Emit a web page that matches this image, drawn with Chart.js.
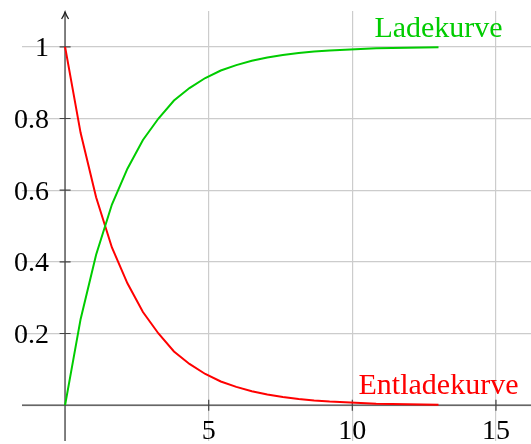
<!DOCTYPE html>
<html>
<head>
<meta charset="utf-8">
<script src="https://cdn.jsdelivr.net/npm/chart.js@4"></script>
<style>
  body { margin: 0; background: #fff; }
  #wrap { width: 531px; height: 444px; position: relative; }
</style>
</head>
<body>
<div id="wrap"><canvas id="kurven"></canvas></div>
<script>
// values
const zeit = [0, 0.54, 1.08, 1.63, 2.17, 2.71, 3.25, 3.79, 4.33, 4.88, 5.42, 5.96, 6.5,
              7.04, 7.58, 8.13, 8.67, 9.21, 9.75, 10.29, 10.83, 11.38, 11.92, 12.46, 13];
const entladen = [1, 0.76, 0.58, 0.44, 0.34, 0.26, 0.2, 0.15, 0.115, 0.087, 0.066, 0.051, 0.039,
                  0.03, 0.023, 0.017, 0.013, 0.01, 0.008, 0.006, 0.004, 0.003, 0.0026, 0.002, 0.0015];
const laden = [0, 0.24, 0.42, 0.56, 0.66, 0.74, 0.8, 0.85, 0.885, 0.913, 0.934, 0.949, 0.961,
               0.97, 0.977, 0.983, 0.987, 0.99, 0.992, 0.994, 0.996, 0.997, 0.9974, 0.998, 0.9985];
const xTicks = [5, 10, 15];
const xTickLabels = ['5', '10', '15'];
const yTicks = [0.2, 0.4, 0.6, 0.8, 1];
const yTickLabels = ['0.2', '0.4', '0.6', '0.8', '1'];
const xGrid = [0, 5, 10, 15];
const yGrid = [0, 0.2, 0.4, 0.6, 0.8, 1];

const rot = '#ff0000';
const gruen = 'rgb(0, 204, 0)';
const schrift = '"Liberation Serif", "DejaVu Serif", serif';

const axesPlugin = {
    id: 'achsen',
    beforeDatasetsDraw(chart) {
        const {ctx, chartArea: a, scales: {x, y}} = chart;
        const x0 = x.getPixelForValue(0);
        const y0 = y.getPixelForValue(0);
        ctx.save();
        ctx.strokeStyle = '#444';
        ctx.lineWidth = 1.2;
        ctx.beginPath();
        ctx.moveTo(a.left, y0);
        ctx.lineTo(a.right, y0);
        ctx.moveTo(x0, a.bottom);
        ctx.lineTo(x0, a.top + 1);
        yTicks.forEach(v => {
            const p = y.getPixelForValue(v);
            ctx.moveTo(x0 - 5.5, p);
            ctx.lineTo(x0 + 5.5, p);
        });
        xTicks.forEach(v => {
            const p = x.getPixelForValue(v);
            ctx.moveTo(p, y0 - 5.5);
            ctx.lineTo(p, y0 + 5.5);
        });
        ctx.stroke();
        // arrow tip on the y axis
        const t = a.top + 1;
        ctx.strokeStyle = '#222';
        ctx.lineWidth = 1.3;
        ctx.beginPath();
        ctx.moveTo(x0 - 3.5, t + 7);
        ctx.quadraticCurveTo(x0 - 1, t + 3, x0, t);
        ctx.quadraticCurveTo(x0 + 1, t + 3, x0 + 3.5, t + 7);
        ctx.stroke();
        ctx.restore();
    },
    afterDatasetsDraw(chart) {
        const {ctx, scales: {x, y}} = chart;
        const x0 = x.getPixelForValue(0);
        const y0 = y.getPixelForValue(0);
        ctx.save();
        ctx.fillStyle = '#000';
        ctx.font = '28px ' + schrift;
        ctx.textAlign = 'right';
        ctx.textBaseline = 'alphabetic';
        yTicks.forEach((v, i) => {
            ctx.fillText(yTickLabels[i], x0 - 16, y.getPixelForValue(v) + 9.5);
        });
        ctx.textAlign = 'center';
        xTicks.forEach((v, i) => {
            ctx.fillText(xTickLabels[i], x.getPixelForValue(v), y0 + 34);
        });
        // curve names at the end of each curve
        const last = zeit.length - 1;
        ctx.font = '30px ' + schrift;
        ctx.fillStyle = gruen;
        ctx.fillText('Ladekurve', x.getPixelForValue(zeit[last]), y.getPixelForValue(laden[last]) - 10);
        ctx.fillStyle = rot;
        ctx.fillText('Entladekurve', x.getPixelForValue(zeit[last]), y.getPixelForValue(entladen[last]) - 11);
        ctx.restore();
    }
};

const kurvenData = {
    datasets: [
        {
            label: 'Ladekurve',
            data: zeit.map((t, i) => ({x: t, y: laden[i]})),
            borderColor: gruen,
            borderWidth: 2,
            pointRadius: 0,
            tension: 0,
            fill: false
        },
        {
            label: 'Entladekurve',
            data: zeit.map((t, i) => ({x: t, y: entladen[i]})),
            borderColor: rot,
            borderWidth: 2,
            pointRadius: 0,
            tension: 0,
            fill: false
        }
    ]
};

new Chart(document.getElementById('kurven').getContext('2d'), {
    type: 'line',
    data: kurvenData,
    options: {
        responsive: true,
        maintainAspectRatio: false,
        animation: false,
        layout: { padding: { left: 22, top: 11, right: 0, bottom: 3 } },
        plugins: { legend: { display: false }, tooltip: { enabled: false } },
        scales: {
            x: {
                type: 'linear',
                min: -1.5,
                max: 16.22,
                afterBuildTicks: s => { s.ticks = xGrid.map(v => ({value: v})); },
                ticks: { display: false },
                border: { display: false },
                grid: { color: '#cccccc', lineWidth: 1.2, drawTicks: false }
            },
            y: {
                type: 'linear',
                min: -0.1,
                max: 1.1,
                afterBuildTicks: s => { s.ticks = yGrid.map(v => ({value: v})); },
                ticks: { display: false },
                border: { display: false },
                grid: { color: '#cccccc', lineWidth: 1.2, drawTicks: false }
            }
        }
    },
    plugins: [axesPlugin]
});
</script>
</body>
</html>
